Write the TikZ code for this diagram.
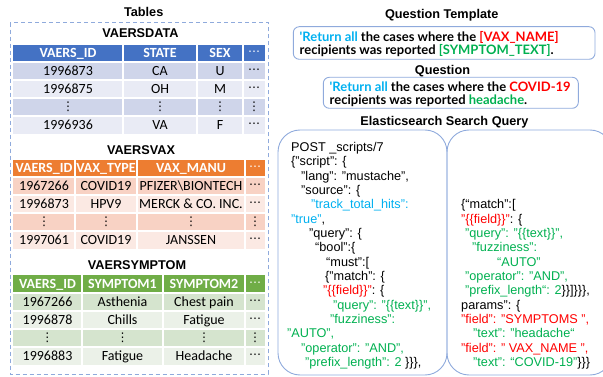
\documentclass[tikz,border=0pt]{standalone}
\usepackage{fontspec}
\setmainfont{Liberation Sans}
\newfontfamily\tabfont{Carlito}
\newfontfamily\qfont{Lato}
\newfontfamily\symfont{DejaVu Sans}
\definecolor{boxblue}{HTML}{8FAADC}
\definecolor{bhead}{HTML}{4472C4}
\definecolor{bdark}{HTML}{CFD5EA}
\definecolor{blight}{HTML}{E9EBF5}
\definecolor{ohead}{HTML}{ED7D31}
\definecolor{odark}{HTML}{F8D2C4}
\definecolor{olight}{HTML}{FBE9E3}
\definecolor{ghead}{HTML}{70AD47}
\definecolor{gdark}{HTML}{D5E4CE}
\definecolor{glight}{HTML}{EBF1E8}
\definecolor{qcyan}{HTML}{00B0F0}
\definecolor{qred}{HTML}{FF0000}
\definecolor{qgreen}{HTML}{00B050}
\newcommand{\hd}{{\symfont\fontsize{12}{14}\selectfont ⋯}}
\newcommand{\vd}{{\symfont\fontsize{12}{14}\selectfont ⋮}}
\tikzset{
 ttl/.style={font=\bfseries\fontsize{12.7}{14}\selectfont, inner sep=0pt, anchor=base, yshift=-4.5pt},
 tabt/.style={font=\tabfont\fontsize{14}{16}\selectfont, inner sep=0pt, anchor=base, yshift=-4.5pt},
 tabh/.style={font=\tabfont\bfseries\fontsize{14}{16}\selectfont, inner sep=0pt, anchor=base, yshift=-4.5pt, text=white},
 dots/.style={inner sep=0pt, anchor=center},
 code/.style={font=\fontsize{12.7}{14}\selectfont, inner sep=0pt, anchor=base west, yshift=-4.6pt},
 qtxt/.style={font=\qfont\bfseries\fontsize{13}{15}\selectfont, inner sep=0pt, anchor=base west, yshift=-4.7pt},
 qbox/.style={draw=boxblue, line width=0.9pt, rounded corners=6pt},
 cbox/.style={draw=boxblue, line width=0.9pt, rounded corners=22pt},
 grid/.style={white, line width=1.2pt},
}
\begin{document}
\begin{tikzpicture}[x=1pt,y=-1pt]
\useasboundingbox (0,0) rectangle (603,377);
\clip (0,0) rectangle (603,377);
% ---------- Tables ----------
\node[ttl] (tables) at (143.7,11.7) {Tables};
\draw[boxblue, line width=0.9pt, dash pattern=on 4pt off 3pt] (10,22.7) rectangle (268,374);
% VAERSDATA
\node[ttl] (t1title) at (140.5,33.3) {VAERSDATA};
\fill[bhead] (13,45) rectangle (265,62);
\fill[bdark] (13,62) rectangle (265,80);
\fill[blight] (13,80) rectangle (265,98);
\fill[bdark] (13,98) rectangle (265,116);
\fill[blight] (13,116) rectangle (265,134);
\draw[grid] (123,45)--(123,134) (197,45)--(197,134) (243,45)--(243,134)
  (13,62)--(265,62) (13,80)--(265,80) (13,98)--(265,98) (13,116)--(265,116);
\node[tabh] (t1h1) at (68,53.5) {VAERS\_ID};
\node[tabh] (t1h2) at (160,53.5) {STATE};
\node[tabh] (t1h3) at (220,53.5) {SEX};
\node[dots, text=white] (t1h4) at (254,53.5) {\hd};
\foreach \y/\a/\b/\c [count=\r] in {71/1996873/CA/U, 89/1996875/OH/M, 125/1996936/VA/F}{
 \node[tabt] (t1r\r a) at (68,\y) {\a};
 \node[tabt] (t1r\r b) at (160,\y) {\b};
 \node[tabt] (t1r\r c) at (220,\y) {\c};
 \node[dots] (t1r\r d) at (254,\y) {\hd};
}
\foreach \x [count=\c] in {68,160,220,254}{
 \node[dots] (t1v\c) at (\x,107) {\vd};
}
% VAERSVAX
\node[ttl] (t2title) at (141,150) {VAERSVAX};
\fill[ohead] (13,160) rectangle (265,177);
\fill[odark] (13,177) rectangle (265,195);
\fill[olight] (13,195) rectangle (265,213);
\fill[odark] (13,213) rectangle (265,231);
\fill[olight] (13,231) rectangle (265,249);
\draw[grid] (75,160)--(75,249) (137,160)--(137,249) (245,160)--(245,249)
  (13,177)--(265,177) (13,195)--(265,195) (13,213)--(265,213) (13,231)--(265,231);
\node[tabh] (t2h1) at (44,168.5) {VAERS\_ID};
\node[tabh] (t2h2) at (106,168.5) {VAX\_TYPE};
\node[tabh] (t2h3) at (191,168.5) {VAX\_MANU};
\node[dots, text=white] (t2h4) at (255,168.5) {\hd};
\foreach \y/\a/\b/\c [count=\r] in {186/1967266/COVID19/PFIZER\textbackslash BIONTECH, 204/1996873/HPV9/MERCK \& CO. INC., 240/1997061/COVID19/JANSSEN}{
 \node[tabt] (t2r\r a) at (44,\y) {\a};
 \node[tabt] (t2r\r b) at (106,\y) {\b};
 \node[tabt] (t2r\r c) at (191,\y) {\c};
 \node[dots] (t2r\r d) at (255,\y) {\hd};
}
\foreach \x [count=\c] in {44,106,191,255}{
 \node[dots] (t2v\c) at (\x,222) {\vd};
}
% VAERSYMPTOM
\node[ttl] (t3title) at (137,265) {VAERSYMPTOM};
\fill[ghead] (13,275) rectangle (265,293);
\fill[gdark] (13,293) rectangle (265,311);
\fill[glight] (13,311) rectangle (265,329);
\fill[gdark] (13,329) rectangle (265,347);
\fill[glight] (13,347) rectangle (265,365);
\draw[grid] (82,275)--(82,365) (163,275)--(163,365) (245,275)--(245,365)
  (13,293)--(265,293) (13,311)--(265,311) (13,329)--(265,329) (13,347)--(265,347);
\node[tabh] (t3h1) at (47.5,284) {VAERS\_ID};
\node[tabh] (t3h2) at (122.5,284) {SYMPTOM1};
\node[tabh] (t3h3) at (204,284) {SYMPTOM2};
\node[dots, text=white] (t3h4) at (255,284) {\hd};
\foreach \y/\a/\b/\c [count=\r] in {302/1967266/Asthenia/Chest pain, 320/1996878/Chills/Fatigue, 356/1996883/Fatigue/Headache}{
 \node[tabt] (t3r\r a) at (47.5,\y) {\a};
 \node[tabt] (t3r\r b) at (122.5,\y) {\b};
 \node[tabt] (t3r\r c) at (204,\y) {\c};
 \node[dots] (t3r\r d) at (255,\y) {\hd};
}
\foreach \x [count=\c] in {47.5,122.5,204,255}{
 \node[dots] (t3v\c) at (\x,338) {\vd};
}
% ---------- Questions ----------
\node[ttl] (qttitle) at (441.7,14) {Question Template};
\draw[qbox] (293.3,26.7) rectangle (595,59.3);
\node[qtxt] (qt1) at (299.5,36.7) {\textcolor{qcyan}{\textquotesingle Return all} the cases where the \textcolor{qred}{[VAX\_NAME]}};
\node[qtxt] (qt2) at (299.5,50) {recipients was reported \textcolor{qgreen}{[SYMPTOM\_TEXT]}.};
\node[ttl] (qtitle) at (442.5,70) {Question};
\draw[qbox] (323.3,77.3) rectangle (578.3,108.3);
\node[qtxt] (q1) at (329.5,87.3) {\textcolor{qcyan}{\textquotesingle Return all} the cases where the \textcolor{qred}{COVID-19}};
\node[qtxt] (q2) at (329.5,100) {recipients was reported \textcolor{qgreen}{headache}.};
% ---------- Elasticsearch ----------
\node[ttl] (etitle) at (444.5,120.7) {Elasticsearch Search Query};
\draw[cbox] (278,130) rectangle (447,375);
\draw[cbox] (447,130) rectangle (612,375);
% left code
\node[code] (l1) at (291,147) {POST \_scripts/7};
\node[code] (l2) at (291,161.3) {\{"script": \{};
\node[code] (l3) at (301,175.7) {"lang": "mustache",};
\node[code] (l4) at (301,190) {"source": \{};
\node[code, text=qcyan] (l5) at (311,204.3) {"track\_total\_hits":};
\node[code] (l6) at (291,218.7) {\textcolor{qcyan}{"true"},};
\node[code] (l7) at (309,233) {"query": \{};
\node[code] (l8) at (315,247.3) {“bool”:\{};
\node[code] (l9) at (326,261.7) {“must”:[};
\node[code] (l10) at (325,276) {\{"match": \{};
\node[code] (l11) at (323,290.3) {\textcolor{qred}{"\{\{field\}\}"}: \{};
\node[code, text=qgreen] (l12) at (333,304.7) {"query": "\{\{text\}\}",};
\node[code, text=qgreen] (l13) at (330,319) {"fuzziness":};
\node[code, text=qgreen] (l14) at (287,333.3) {"AUTO",};
\node[code, text=qgreen] (l15) at (301,347.7) {"operator": "AND",};
\node[code] (l16) at (305,362) {\textcolor{qgreen}{"prefix\_length": 2} \}\}\},};
% right code
\node[code] (r1) at (461,204.3) {\{“match”:[};
\node[code] (r2) at (461,218.7) {\textcolor{qred}{"\{\{field\}\}"}: \{};
\node[code, text=qgreen] (r3) at (465,233) {"query": "\{\{text\}\}",};
\node[code, text=qgreen] (r4) at (472,247.3) {"fuzziness":};
\node[code, text=qgreen] (r5) at (497,261.7) {“AUTO”};
\node[code, text=qgreen] (r6) at (465,276) {"operator": "AND",};
\node[code] (r7) at (465,290.3) {\textcolor{qgreen}{"prefix\_length“: 2}\}\}]\}\}\},};
\node[code] (r8) at (461,304.7) {params": \{};
\node[code, text=qred] (r9) at (461,319) {"field": "SYMPTOMS ",};
\node[code, text=qgreen] (r10) at (473,333.3) {"text": "headache“};
\node[code, text=qred] (r11) at (461,347.7) {"field": " VAX\_NAME ",};
\node[code] (r12) at (473,362) {\textcolor{qgreen}{"text": “COVID-19"}\}\}\}};
\end{tikzpicture}
\end{document}
